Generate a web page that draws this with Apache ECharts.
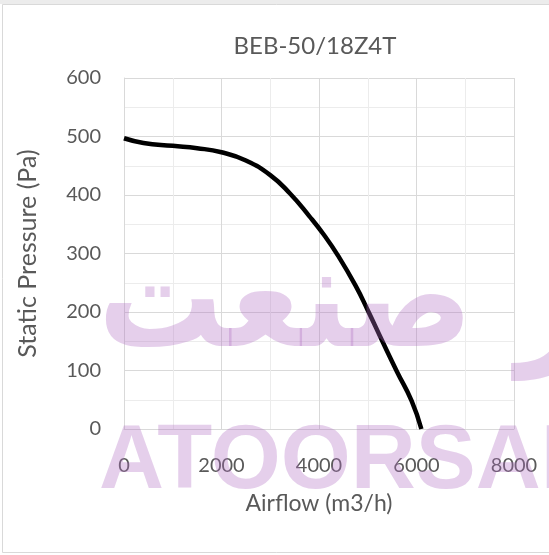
<!DOCTYPE html>
<html>
<head>
<meta charset="utf-8">
<script src="https://cdn.jsdelivr.net/npm/echarts@6/dist/echarts.min.js"></script>
<style>
html,body{margin:0;padding:0;background:#fff;}
#c{width:549px;height:555px;}
</style>
</head>
<body>
<div id="c"></div>
<script>
const chartTitle = 'BEB-50/18Z4T';
const xName = 'Airflow (m3/h)';
const yName = 'Static Pressure (Pa)';
const airflow = [0, 400, 1000, 1500, 2000, 2500, 3000, 3400, 3800, 4100, 4400, 4750, 5000, 5300, 5600, 5900, 6100];
const pressure = [497, 489, 484, 480, 473, 459, 434, 403, 364, 332, 295, 245, 203, 150, 98, 48, 0];
const xTicks = [0, 2000, 4000, 6000, 8000];
const yTicks = [0, 100, 200, 300, 400, 500, 600];
const watermarkLatin = 'ATOORSAN';
const watermarkPersian = 'آتور صنعت';

const FONT = 'Lato, "Open Sans", sans-serif';
const TXT = '#595959';
const chart = echarts.init(document.getElementById('c'), null, {renderer: 'canvas'});
chart.setOption({
  backgroundColor: '#ffffff',
  animation: false,
  title: {
    text: chartTitle, left: 310, top: 29, textAlign: 'center',
    textStyle: {fontFamily: FONT, fontSize: 24, fontWeight: 'normal', color: TXT}
  },
  grid: {left: 124, right: 35, top: 78, bottom: 126},
  xAxis: {
    type: 'value', min: xTicks[0], max: xTicks[xTicks.length - 1], interval: 2000,
    name: xName, nameLocation: 'middle', nameGap: 63,
    nameTextStyle: {fontFamily: FONT, fontSize: 23, color: TXT},
    axisLine: {show: true, lineStyle: {color: '#d9d9d9'}},
    axisTick: {show: false},
    axisLabel: {fontFamily: FONT, fontSize: 20, color: TXT, margin: 27, formatter: v => String(v)},
    splitLine: {show: true, lineStyle: {color: '#d9d9d9', width: 1}},
    minorTick: {show: false, splitNumber: 2},
    minorSplitLine: {show: true, lineStyle: {color: '#ececec', width: 1}}
  },
  yAxis: {
    type: 'value', min: yTicks[0], max: yTicks[yTicks.length - 1], interval: 100,
    name: yName, nameLocation: 'middle', nameGap: 84,
    nameTextStyle: {fontFamily: FONT, fontSize: 25, color: TXT},
    axisLine: {show: true, lineStyle: {color: '#d9d9d9'}},
    axisTick: {show: false},
    axisLabel: {fontFamily: FONT, fontSize: 20, color: TXT, margin: 23, formatter: v => String(v)},
    splitLine: {show: true, lineStyle: {color: '#d9d9d9', width: 1}},
    minorTick: {show: false, splitNumber: 2},
    minorSplitLine: {show: true, lineStyle: {color: '#ececec', width: 1}}
  },
  series: [{
    type: 'line',
    data: airflow.map((x, i) => [x, pressure[i]]),
    smooth: 0.5,
    showSymbol: false,
    lineStyle: {color: '#000000', width: 4.5},
    z: 3
  }],
  graphic: [
    {type: 'rect', silent: true, z: -10, shape: {x: 0, y: 0, width: 549, height: 4}, style: {fill: '#ececec'}},
    {type: 'rect', silent: true, z: -10, shape: {x: 2.5, y: 4.5, width: 560, height: 548}, style: {fill: null, stroke: '#d9d9d9', lineWidth: 1}},
    {type: 'text', silent: true, z: 100, x: 98, y: 309, scaleY: 1.15,
      style: {text: watermarkPersian, font: 'bold 125px "DejaVu Sans"', fill: 'rgba(175,110,195,0.33)', align: 'left', verticalAlign: 'middle'}},
    {type: 'text', silent: true, z: 100, x: 99, y: 463,
      style: {text: watermarkLatin, font: 'bold 90px "Liberation Sans"', fill: 'rgba(175,110,195,0.33)', align: 'left', verticalAlign: 'middle'}}
  ]
});
</script>
</body>
</html>
